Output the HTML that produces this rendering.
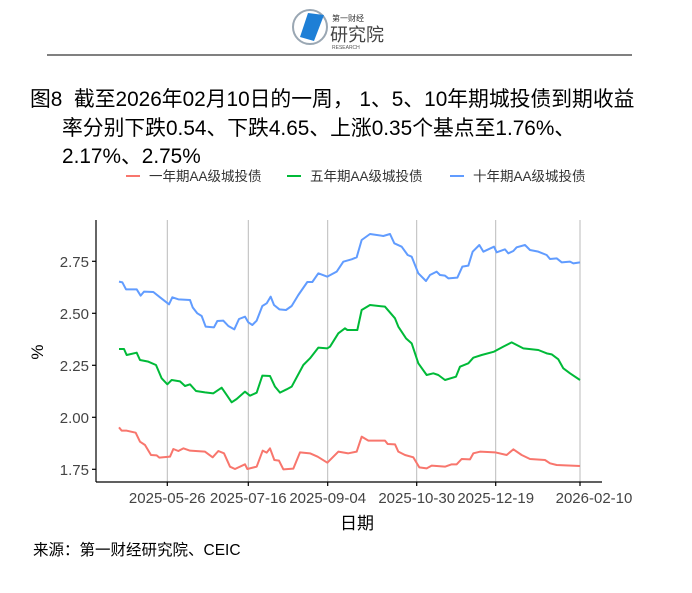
<!DOCTYPE html>
<html><head><meta charset="utf-8"><style>
body{margin:0;background:#fff;width:692px;height:593px;overflow:hidden;font-family:"Liberation Sans","Noto Sans CJK SC",sans-serif;position:relative}
.t{position:absolute;font-size:20.8px;line-height:24px;color:#000;white-space:nowrap}
</style></head><body>
<svg width="692" height="593" style="position:absolute;left:0;top:0">
<g transform="translate(292,5)">
<ellipse cx="18" cy="22" rx="17" ry="17" fill="none" stroke="#9aa7b3" stroke-width="2"/>
<polygon points="8,32 16,8 32,10 22,36" fill="#1e7fd6"/>
<text x="40" y="16" font-size="8" fill="#333" font-family="Noto Sans CJK SC">第一财经</text>
<text x="38" y="36" font-size="18" fill="#444" font-family="Noto Sans CJK SC">研究院</text>
<text x="40" y="44" font-size="5" fill="#555">RESEARCH</text>
</g>
<line x1="47" y1="55" x2="632" y2="55" stroke="#000" stroke-width="1"/>
<g stroke="#bbb" stroke-width="1">
<line x1="167.3" y1="220" x2="167.3" y2="482"/><line x1="248.3" y1="220" x2="248.3" y2="482"/>
<line x1="327.7" y1="220" x2="327.7" y2="482"/><line x1="416.7" y1="220" x2="416.7" y2="482"/>
<line x1="495.7" y1="220" x2="495.7" y2="482"/><line x1="580" y1="220" x2="580" y2="482"/>
</g>
<g stroke="#000" stroke-width="1.2">
<line x1="96" y1="220" x2="96" y2="482"/><line x1="96" y1="482" x2="602" y2="482"/>
<line x1="92" y1="261.3" x2="96" y2="261.3"/><line x1="92" y1="313.3" x2="96" y2="313.3"/>
<line x1="92" y1="365.3" x2="96" y2="365.3"/><line x1="92" y1="417.3" x2="96" y2="417.3"/>
<line x1="92" y1="469.3" x2="96" y2="469.3"/>
<line x1="167.3" y1="482" x2="167.3" y2="486"/><line x1="248.3" y1="482" x2="248.3" y2="486"/>
<line x1="327.7" y1="482" x2="327.7" y2="486"/><line x1="416.7" y1="482" x2="416.7" y2="486"/>
<line x1="495.7" y1="482" x2="495.7" y2="486"/><line x1="580" y1="482" x2="580" y2="486"/>
</g>
<g font-size="15" fill="#444" text-anchor="end">
<text x="89" y="267">2.75</text><text x="89" y="319">2.50</text><text x="89" y="371">2.25</text><text x="89" y="423">2.00</text><text x="89" y="475">1.75</text>
</g>
<g font-size="15" fill="#444" text-anchor="middle">
<text x="167.3" y="503">2025-05-26</text><text x="248.3" y="503">2025-07-16</text><text x="327.7" y="503">2025-09-04</text>
<text x="416.7" y="503">2025-10-30</text><text x="495.7" y="503">2025-12-19</text><text x="594" y="503">2026-02-10</text>
</g>
<text x="357" y="529" font-size="17" text-anchor="middle" font-family="Noto Sans CJK SC">日期</text>
<text transform="translate(43,352) rotate(-90)" font-size="17" text-anchor="middle">%</text>
<g transform="translate(90,220) scale(0.33333)" fill="none" stroke-linejoin="round">
<polyline vector-effect="non-scaling-stroke" stroke-width="2" stroke="#619cff" points="87,185 97,187 108,208 140,208 152,227 162,215 190,216 210,232 237,253 247,232 265,238 300,240 308,262 322,280 335,288 347,320 372,322 382,303 400,302 415,318 433,328 447,297 465,290 475,307 487,315 500,302 517,258 530,250 542,230 552,255 568,268 588,270 605,258 625,225 652,186 667,186 685,160 712,170 740,155 760,125 785,118 800,112 815,60 840,42 880,48 900,42 913,70 935,80 953,105 965,110 985,160 1008,183 1020,165 1040,155 1050,165 1065,167 1075,175 1102,173 1117,140 1135,137 1148,95 1168,75 1180,95 1212,80 1220,97 1245,88 1255,100 1270,93 1280,82 1305,75 1320,90 1345,95 1370,105 1380,117 1400,115 1415,127 1440,125 1450,130 1470,127"/>
<polyline vector-effect="non-scaling-stroke" stroke-width="2" stroke="#00ba38" points="87,387 102,387 110,405 140,398 150,420 175,425 198,435 215,475 232,493 245,480 270,484 285,498 300,493 318,513 345,517 370,520 395,503 410,525 425,547 440,537 465,515 480,527 500,518 517,467 540,468 555,500 570,518 590,508 605,500 640,435 660,415 685,383 712,385 720,380 745,340 765,325 772,330 802,330 815,270 840,255 885,260 915,295 925,320 948,355 965,370 985,430 1010,465 1030,460 1045,465 1065,480 1098,470 1110,440 1135,430 1150,413 1175,405 1212,395 1240,380 1265,367 1300,385 1345,390 1370,400 1385,403 1405,418 1420,445 1440,460 1470,480"/>
<polyline vector-effect="non-scaling-stroke" stroke-width="2" stroke="#f8766d" points="87,622 95,632 110,632 137,638 150,665 165,675 183,705 200,706 208,713 240,710 250,687 265,693 280,685 300,692 345,695 368,712 385,693 402,700 420,740 435,747 465,733 472,747 500,740 518,692 530,698 540,685 553,720 567,722 580,748 610,746 630,697 660,700 683,710 712,728 745,695 775,700 800,695 815,650 835,662 885,662 893,672 915,673 925,695 945,705 970,712 988,742 1010,745 1025,737 1065,740 1085,733 1100,733 1115,717 1140,718 1150,700 1170,695 1215,697 1250,705 1270,688 1295,705 1320,717 1365,720 1380,730 1400,735 1470,738"/>
</g>
<g font-size="13.5" fill="#333">
<line x1="126" y1="176" x2="140" y2="176" stroke="#f8766d" stroke-width="2"/><text x="149" y="181">一年期AA级城投债</text>
<line x1="287" y1="176" x2="301" y2="176" stroke="#00ba38" stroke-width="2"/><text x="310" y="181">五年期AA级城投债</text>
<line x1="450" y1="176" x2="464" y2="176" stroke="#619cff" stroke-width="2"/><text x="473" y="181">十年期AA级城投债</text>
</g>
</svg>
<div class="t" style="left:30px;top:88px">图8&nbsp;&nbsp;截至2026年02月10日的一周，&nbsp;1、5、10年期城投债到期收益</div>
<div class="t" style="left:62px;top:117px">率分别下跌0.54、下跌4.65、上涨0.35个基点至1.76%、</div>
<div class="t" style="left:62px;top:145px">2.17%、2.75%</div>
<div class="t" style="left:33px;top:541px;font-size:15.5px;line-height:20px">来源：第一财经研究院、CEIC</div>
</body></html>
